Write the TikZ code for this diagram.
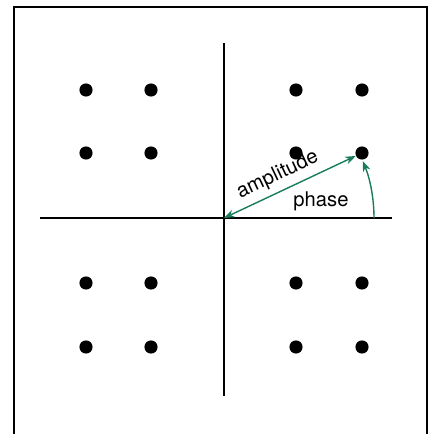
\documentclass[tikz,border=0pt]{standalone}
\usepackage{fontspec}
\setmainfont{TeX Gyre Heros}
\usetikzlibrary{arrows.meta}
\definecolor{phasegreen}{RGB}{25, 125, 90}

\tikzset{
  dot/.style={circle, fill=black, inner sep=0pt, minimum size=7.5},
  axis/.style={black, line width=0.6},
  lbl/.style={text=black, font=\fontsize{11.5}{14}\selectfont},
  vec/.style={phasegreen, line width=0.8, -{Stealth[length=6pt, width=4.5pt]}}
}

\begin{document}
\begin{tikzpicture}[x=0.02cm, y=-0.02cm]
  \useasboundingbox (0, 0) rectangle (433, 434);
  \clip (0, 0) rectangle (433, 434);

  % Frame
  \draw[black, line width=0.9] (14, 440) -- (14, 7) -- (427, 7) -- (427, 440);

  % Axes
  \draw[axis] (224, 43) -- (224, 396);
  \draw[axis] (40, 218) -- (392, 218);
  \coordinate (o) at (224, 218);
  \coordinate (ph) at (374, 218);

  % Constellation points
  \foreach \x/\i in {86/1, 151/2, 296/3, 362/4} {
    \foreach \y/\j in {90/1, 153/2, 283/3, 347/4} {
      \node[dot] (d\i\j) at (\x, \y) {};
    }
  }

  % Amplitude and phase
  \draw[vec, {Stealth[length=6pt, width=4.5pt]}-{Stealth[length=6pt, width=4.5pt]}] (o) -- (d42)
    node[lbl, pos=0.46, sloped, above=0pt] (amp) {amplitude};
  \draw[vec] (ph) arc[start angle=0, end angle=-22.3, radius=150];
  \node[lbl] (phase) at (321, 201) {phase};

\end{tikzpicture}
\end{document}
